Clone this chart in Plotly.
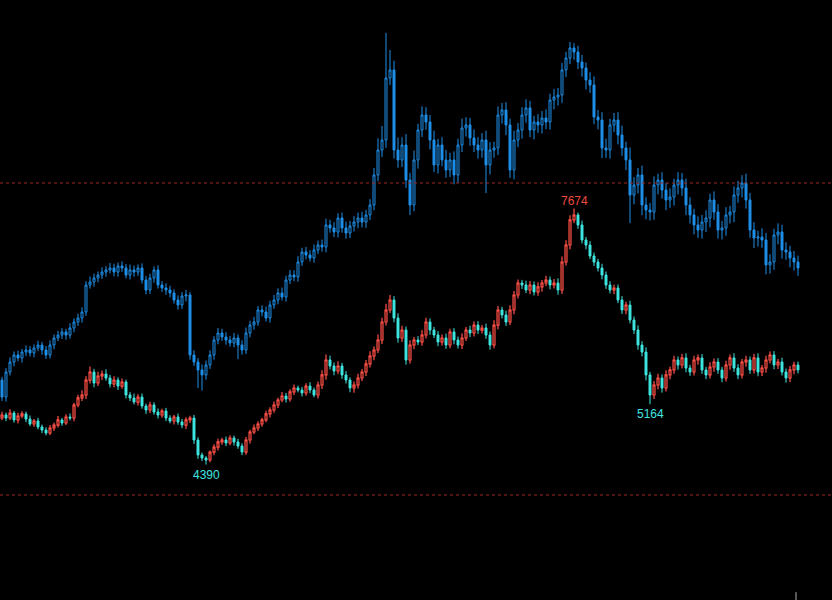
import plotly.graph_objects as go

# ---------------- data (index points) ----------------
# lower series (red up / cyan down), closes per bar
lower_close = [
    5026, 4987, 5051, 4962, 5013, 5039, 4974, 4910, 4949, 4872, 4833, 4795, 4859, 4897, 4962, 4923, 5000, 4987, 5154, 5244,
    5282, 5474, 5577, 5436, 5526, 5551, 5500, 5423, 5474, 5397, 5449, 5282, 5244, 5192, 5256, 5141, 5090, 5154, 5064, 5026,
    5077, 4987, 4949, 5000, 4936, 4897, 4962, 4987, 4705, 4513, 4474, 4449, 4551, 4615, 4680, 4705, 4667, 4731, 4680, 4628,
    4551, 4705, 4808, 4859, 4910, 4962, 5039, 5090, 5154, 5218, 5269, 5231, 5321, 5372, 5346, 5308, 5397, 5346, 5282, 5410,
    5539, 5731, 5654, 5590, 5654, 5539, 5474, 5372, 5410, 5500, 5577, 5680, 5782, 5859, 5987, 6218, 6372, 6500, 6269, 6013,
    6115, 5731, 5923, 5987, 5962, 6051, 6218, 6115, 6051, 5962, 6013, 5923, 6090, 5987, 5923, 6013, 6115, 6077, 6179, 6115,
    6141, 6051, 5923, 6179, 6372, 6308, 6218, 6372, 6564, 6718, 6692, 6628, 6692, 6603, 6667, 6718, 6756, 6692, 6718, 6628,
    6987, 7205, 7526, 7590, 7462, 7269, 7205, 7064, 6987, 6910, 6820, 6692, 6628, 6654, 6500, 6372, 6436, 6244, 6115, 5923,
    5833, 5539, 5282, 5410, 5500, 5372, 5539, 5603, 5731, 5667, 5757, 5628, 5577, 5731, 5757, 5603, 5539, 5641, 5705, 5603,
    5500, 5667, 5757, 5628, 5539, 5705, 5731, 5603, 5757, 5577, 5628, 5731, 5795, 5667, 5705, 5577, 5500, 5603, 5667, 5603,
]
lower_first_open = 4990
lower_upper_wick = [
    40, 30, 50, 25, 40, 35, 30, 45, 25, 40, 30, 35, 40, 30, 50, 25, 35, 45, 30, 40,
    60, 50, 70, 40, 55, 45, 60, 40, 50, 35, 45, 30, 40, 55, 35, 45, 30, 40, 35, 45,
    30, 40, 35, 30, 45, 40, 35, 30, 40, 35, 30, 25, 20, 35, 40, 30, 45, 35, 30, 40,
    35, 40, 30, 45, 35, 30, 40, 35, 45, 30, 50, 40, 35, 45, 30, 40, 35, 50, 30, 45,
    60, 70, 55, 45, 60, 40, 50, 35, 45, 55, 40, 50, 60, 45, 70, 55, 80, 64, 50, 60,
    55, 45, 60, 40, 50, 65, 55, 45, 40, 50, 45, 55, 40, 50, 45, 60, 40, 55, 45, 50,
    40, 55, 45, 60, 50, 40, 55, 60, 50, 45, 40, 55, 50, 45, 60, 40, 55, 45, 50, 60,
    70, 60, 60, 84, 30, 55, 40, 50, 45, 40, 55, 45, 50, 40, 45, 50, 40, 55, 45, 60,
    50, 60, 40, 50, 55, 45, 60, 40, 55, 45, 50, 60, 40, 55, 45, 50, 40, 60, 45, 50,
    40, 55, 45, 60, 50, 40, 55, 45, 50, 60, 40, 55, 45, 50, 40, 55, 45, 50, 40, 45,
]
lower_lower_wick = [
    30, 40, 25, 35, 45, 30, 40, 25, 35, 30, 40, 30, 25, 40, 30, 35, 25, 30, 40, 30,
    40, 50, 45, 55, 40, 50, 35, 45, 40, 50, 35, 45, 40, 30, 45, 35, 50, 40, 35, 45,
    35, 40, 30, 45, 35, 40, 50, 40, 50, 50, 40, 59, 30, 40, 45, 35, 40, 30, 45, 35,
    40, 35, 45, 30, 40, 35, 30, 45, 35, 40, 30, 45, 35, 40, 30, 45, 35, 40, 30, 45,
    50, 60, 45, 55, 40, 50, 45, 55, 60, 45, 40, 50, 45, 55, 40, 50, 45, 40, 55, 60,
    50, 60, 45, 55, 40, 50, 45, 60, 40, 55, 45, 50, 40, 55, 45, 50, 40, 55, 45, 50,
    45, 50, 60, 40, 55, 45, 50, 40, 55, 45, 50, 40, 55, 45, 50, 60, 40, 55, 45, 60,
    50, 45, 55, 40, 50, 45, 55, 40, 50, 45, 55, 50, 45, 55, 40, 50, 55, 45, 50, 60,
    55, 70, 118, 50, 55, 60, 45, 55, 50, 60, 45, 55, 50, 45, 60, 50, 55, 45, 60, 50,
    55, 45, 60, 50, 55, 45, 60, 50, 45, 55, 50, 60, 45, 55, 50, 45, 60, 50, 55, 45,
]

# upper series (blue), closes per bar
blue_close = [
    5256, 5577, 5705, 5795, 5757, 5833, 5859, 5821, 5885, 5923, 5859, 5795, 5923, 6013, 6051, 6090, 6051, 6141, 6218, 6269,
    6346, 6692, 6731, 6782, 6820, 6859, 6885, 6910, 6859, 6936, 6910, 6820, 6885, 6859, 6910, 6756, 6628, 6782, 6885, 6692,
    6654, 6628, 6590, 6500, 6436, 6551, 6564, 5795, 5705, 5603, 5539, 5667, 5795, 5987, 6077, 6026, 5987, 5949, 6013, 5923,
    5859, 6077, 6179, 6218, 6372, 6346, 6269, 6436, 6500, 6590, 6538, 6756, 6820, 6795, 6987, 7115, 7077, 7038, 7141, 7205,
    7180, 7462, 7423, 7372, 7551, 7423, 7359, 7449, 7500, 7551, 7500, 7590, 7718, 8103, 8423, 8551, 9346, 9449, 8423, 8295,
    8487, 8038, 7718, 8295, 8679, 8872, 8782, 8551, 8231, 8487, 8295, 8167, 8295, 8103, 8487, 8705, 8744, 8577, 8487, 8423,
    8551, 8231, 8423, 8449, 8872, 8936, 8744, 8167, 8551, 8679, 8872, 8962, 8679, 8782, 8744, 8833, 8782, 9064, 9103, 9128,
    9449, 9603, 9731, 9679, 9551, 9474, 9320, 9256, 8846, 8808, 8449, 8423, 8744, 8808, 8615, 8449, 8295, 7846, 7974, 8103,
    7718, 7654, 7628, 7974, 8038, 7910, 7782, 7821, 7974, 8038, 7936, 7718, 7590, 7462, 7397, 7500, 7551, 7782, 7628, 7397,
    7423, 7590, 7628, 7846, 7936, 8000, 7782, 7397, 7295, 7308, 7269, 6949, 6987, 7333, 7372, 7141, 7115, 7038, 6987, 6910,
]
blue_first_open = 5474
blue_upper_wick = [
    40, 50, 60, 45, 55, 40, 60, 50, 45, 55, 40, 50, 60, 45, 55, 50, 40, 60, 45, 55,
    60, 50, 70, 55, 45, 60, 50, 65, 55, 45, 60, 50, 70, 55, 45, 60, 50, 55, 45, 60,
    50, 60, 55, 45, 60, 50, 65, 40, 60, 50, 70, 55, 60, 50, 65, 55, 60, 50, 65, 45,
    60, 70, 55, 65, 50, 60, 70, 55, 65, 60, 70, 55, 65, 60, 75, 55, 65, 60, 70, 55,
    70, 80, 65, 75, 60, 70, 80, 65, 75, 70, 80, 65, 75, 90, 150, 180, 577, 256, 120, 160,
    100, 140, 90, 120, 80, 110, 100, 90, 120, 80, 100, 130, 90, 110, 80, 120, 100, 90, 110, 100,
    90, 120, 100, 80, 110, 90, 100, 80, 120, 90, 100, 110, 90, 80, 100, 90, 110, 80, 100, 90,
    90, 80, 77, 60, 80, 90, 70, 100, 110, 90, 100, 120, 80, 90, 100, 120, 80, 160, 100, 90,
    120, 100, 90, 110, 80, 100, 90, 110, 80, 100, 90, 120, 100, 80, 110, 90, 100, 80, 110, 100,
    90, 100, 80, 110, 90, 100, 120, 90, 100, 80, 110, 90, 100, 80, 110, 90, 100, 80, 90, 80,
]
blue_lower_wick = [
    50, 60, 45, 55, 40, 60, 50, 45, 55, 40, 60, 50, 45, 55, 40, 50, 60, 45, 55, 50,
    60, 50, 45, 60, 55, 50, 60, 45, 55, 60, 50, 45, 55, 60, 50, 45, 55, 50, 60, 45,
    50, 60, 55, 45, 60, 50, 70, 60, 50, 231, 200, 60, 50, 60, 55, 50, 60, 45, 55, 180,
    60, 50, 55, 60, 50, 55, 45, 60, 50, 55, 45, 60, 50, 55, 60, 50, 55, 45, 60, 50,
    60, 70, 60, 65, 70, 60, 75, 65, 70, 80, 70, 75, 65, 70, 80, 90, 100, 90, 110, 100,
    90, 100, 128, 80, 110, 90, 100, 120, 90, 110, 80, 100, 90, 120, 100, 90, 110, 100, 90, 110,
    100, 360, 120, 100, 90, 110, 130, 100, 120, 90, 110, 100, 90, 120, 100, 110, 90, 100, 120, 110,
    100, 90, 80, 100, 90, 110, 120, 100, 90, 120, 130, 100, 110, 90, 120, 100, 130, 360, 120, 110,
    130, 120, 110, 100, 120, 110, 130, 100, 110, 120, 100, 130, 110, 120, 100, 110, 130, 120, 100, 110,
    120, 100, 110, 130, 100, 120, 110, 100, 130, 110, 100, 120, 110, 100, 120, 110, 100, 120, 110, 100,
]

ref_levels = [8000, 4000]
marks = [  # (bar index, value, label, colour, anchor)
    (143, 7674, "7674", "#ee4a40", "bottom"),
    (51, 4390, "4390", "#3ee6e0", "top"),
    (162, 5164, "5164", "#3ee6e0", "top"),
]


def build(first_open, close, up, dn):
    # bars are gapless: each bar opens at the previous close
    o = [first_open] + close[:-1]
    h = [max(a, b) + u for a, b, u in zip(o, close, up)]
    l = [min(a, b) - d for a, b, d in zip(o, close, dn)]
    return o, h, l


bars = list(range(len(lower_close)))
lo_o, lo_h, lo_l = build(lower_first_open, lower_close, lower_upper_wick, lower_lower_wick)
bl_o, bl_h, bl_l = build(blue_first_open, blue_close, blue_upper_wick, blue_lower_wick)

BLUE = "#1e90ea"
RED = "#ff5048"
CYAN = "#3ee6e0"

fig = go.Figure()
fig.add_trace(go.Candlestick(
    x=bars, open=bl_o, high=bl_h, low=bl_l, close=blue_close,
    increasing=dict(line=dict(color=BLUE, width=1), fillcolor="#000000"),
    decreasing=dict(line=dict(color=BLUE, width=1), fillcolor=BLUE),
    whiskerwidth=0, hoverinfo="skip", name="upper",
))
fig.add_trace(go.Candlestick(
    x=bars, open=lo_o, high=lo_h, low=lo_l, close=lower_close,
    increasing=dict(line=dict(color=RED, width=1.2), fillcolor="#140303"),
    decreasing=dict(line=dict(color=CYAN, width=1), fillcolor=CYAN),
    whiskerwidth=0, hoverinfo="skip", name="lower",
))

for lv in ref_levels:
    fig.add_shape(type="line", xref="paper", x0=0, x1=1, yref="y", y0=lv, y1=lv,
                  line=dict(color="#a02a24", width=1, dash="3px,3px"))

fig.add_shape(type="line", xref="paper", x0=796 / 832, x1=796 / 832, yref="paper", y0=0, y1=0.013,
              line=dict(color="#b0b0b0", width=1))

for bi, val, txt, col, anc in marks:
    fig.add_annotation(x=bi, y=val, text=txt, showarrow=False, xanchor="center", yanchor=anc,
                       yshift=-2 if anc == "bottom" else -1,
                       font=dict(family="Liberation Sans, Arial", size=12, color=col))

fig.update_layout(
    width=832, height=600,
    margin=dict(l=0, r=0, t=0, b=0),
    paper_bgcolor="#000000", plot_bgcolor="#000000",
    showlegend=False,
    xaxis=dict(visible=False, range=[-0.5, 207.5], rangeslider=dict(visible=False), fixedrange=True),
    yaxis=dict(visible=False, range=[2654, 10346], fixedrange=True),
)

fig.write_html("out.html", config={"displayModeBar": False},
               post_script="document.body.style.margin='0';document.body.style.background='#000';")
